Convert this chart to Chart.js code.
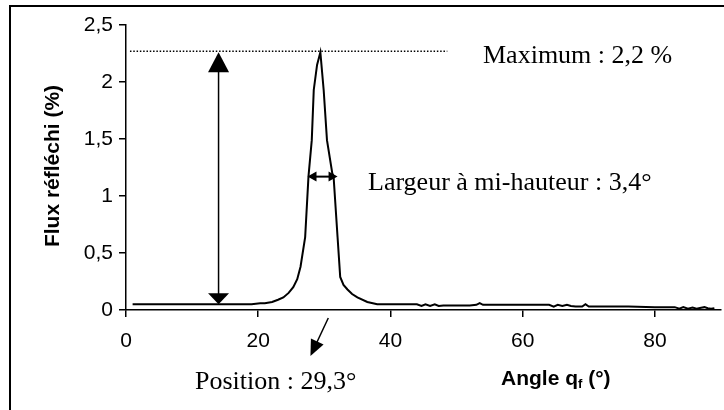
<!DOCTYPE html>
<html>
<head>
<meta charset="utf-8">
<script src="https://cdn.jsdelivr.net/npm/chart.js@4"></script>
<style>
  body { margin: 0; background: #fff; }
  #wrap { width: 724px; height: 410px; }
</style>
</head>
<body>
<div id="wrap"><canvas id="chart" width="724" height="410"></canvas></div>
<script>
// values
const angles = [1, 5, 10, 15, 19, 20.3, 21, 22.1, 23, 23.8, 24.6, 25.3, 25.9, 26.4, 27.1, 27.6, 28.1, 28.4, 28.9, 29.4,
  29.9, 30.4, 31.2, 31.4, 32.0, 32.4, 32.9, 33.5, 34.2, 35, 36.5, 38, 40, 44, 44.7, 45.3, 46, 46.7, 47.3, 48, 50, 52,
  53, 53.5, 54, 56, 60, 64, 64.7, 65.3, 66, 66.7, 67.3, 68, 69, 69.5, 70, 72, 76, 80, 83, 83.7, 84.3, 85, 85.7, 86.3,
  87, 87.5, 88, 88.5, 89];
const flux = [0.05, 0.05, 0.05, 0.05, 0.05, 0.06, 0.06, 0.07, 0.09, 0.11, 0.15, 0.2, 0.27, 0.38, 0.64, 1.17, 1.49, 1.93, 2.15, 2.26,
  1.93, 1.49, 1.2, 1.17, 0.64, 0.29, 0.22, 0.18, 0.14, 0.11, 0.07, 0.05, 0.05, 0.05, 0.035, 0.05, 0.035, 0.05, 0.035, 0.04, 0.04, 0.04,
  0.045, 0.06, 0.045, 0.045, 0.045, 0.045, 0.03, 0.045, 0.035, 0.045, 0.035, 0.03, 0.03, 0.05, 0.03, 0.03, 0.03, 0.025, 0.025, 0.012, 0.025, 0.012, 0.022, 0.012,
  0.02, 0.025, 0.015, 0.01, 0.015];
const xTicks = [0, 20, 40, 60, 80];
const yTicks = [0, 0.5, 1, 1.5, 2, 2.5];

const peakValue = 2.27;
const baseValue = 0.05;
const halfHeight = 1.17;
const halfLeft = 27.45, halfRight = 32.0;

function tri(ctx, tipX, tipY, dirX, dirY, len, half) {
  // arrow head pointing along (dirX, dirY)
  const bx = tipX - dirX * len, by = tipY - dirY * len;
  ctx.beginPath();
  ctx.moveTo(tipX, tipY);
  ctx.lineTo(bx - dirY * half, by + dirX * half);
  ctx.lineTo(bx + dirY * half, by - dirX * half);
  ctx.closePath();
  ctx.fill();
}

const extras = {
  id: 'extras',
  beforeDraw(chart) {
    const ctx = chart.ctx;
    ctx.save();
    ctx.fillStyle = '#fff';
    ctx.fillRect(0, 0, chart.width, chart.height);
    ctx.strokeStyle = '#000';
    ctx.lineWidth = 2;
    ctx.beginPath();
    ctx.moveTo(10, 410);
    ctx.lineTo(10, 6);
    ctx.lineTo(724, 6);
    ctx.stroke();
    ctx.restore();
  },
  afterDatasetsDraw(chart) {
    const ctx = chart.ctx;
    const xs = chart.scales.x, ys = chart.scales.y;
    const area = chart.chartArea;
    ctx.save();
    ctx.strokeStyle = '#000';
    ctx.fillStyle = '#000';

    // dotted level of the maximum
    const yPeak = ys.getPixelForValue(peakValue);
    ctx.lineWidth = 1.5;
    ctx.setLineDash([1.5, 1.8]);
    ctx.beginPath();
    ctx.moveTo(xs.getPixelForValue(0.6), yPeak);
    ctx.lineTo(xs.getPixelForValue(48.6), yPeak);
    ctx.stroke();
    ctx.setLineDash([]);

    // vertical double arrow
    const xa = xs.getPixelForValue(14);
    const yBase = ys.getPixelForValue(baseValue);
    ctx.lineWidth = 1.5;
    ctx.beginPath();
    ctx.moveTo(xa, yPeak + 10);
    ctx.lineTo(xa, yBase - 6);
    ctx.stroke();
    tri(ctx, xa, yPeak + 1, 0, -1, 20, 10.5);
    tri(ctx, xa, yBase, 0, 1, 11, 10.5);

    // half-height width arrow
    const yh = ys.getPixelForValue(halfHeight);
    const xl = xs.getPixelForValue(halfLeft), xr = xs.getPixelForValue(halfRight);
    ctx.lineWidth = 2;
    ctx.beginPath();
    ctx.moveTo(xl + 5, yh);
    ctx.lineTo(xr - 5, yh);
    ctx.stroke();
    tri(ctx, xl, yh, -1, 0, 9, 5);
    tri(ctx, xr, yh, 1, 0, 9, 5);

    // position arrow
    const p0x = xs.getPixelForValue(30.6), p0y = area.bottom + 8;
    const p1x = xs.getPixelForValue(27.9), p1y = area.bottom + 46;
    const dl = Math.hypot(p1x - p0x, p1y - p0y);
    const dx = (p1x - p0x) / dl, dy = (p1y - p0y) / dl;
    ctx.lineWidth = 1.5;
    ctx.beginPath();
    ctx.moveTo(p0x, p0y);
    ctx.lineTo(p1x - dx * 10, p1y - dy * 10);
    ctx.stroke();
    tri(ctx, p1x, p1y, dx, dy, 16, 7);

    // annotation texts
    ctx.font = '26px "Liberation Serif", "Times New Roman", serif';
    ctx.textBaseline = 'alphabetic';
    ctx.textAlign = 'left';
    ctx.fillText('Maximum : 2,2 %', 483, 63);
    ctx.fillText('Largeur à mi-hauteur : 3,4°', 368, 190);
    ctx.fillText('Position : 29,3°', 195, 389);

    // x axis title with subscript
    ctx.font = 'bold 21px "Liberation Sans", Arial, sans-serif';
    let tx = 501;
    ctx.fillText('Angle q', tx, 385);
    tx += ctx.measureText('Angle q').width;
    ctx.font = 'bold 13px "Liberation Sans", Arial, sans-serif';
    ctx.fillText('f', tx, 388);
    tx += ctx.measureText('f').width;
    ctx.font = 'bold 21px "Liberation Sans", Arial, sans-serif';
    ctx.fillText(' (°)', tx, 385);

    // y axis title
    ctx.translate(53, 166);
    ctx.rotate(-Math.PI / 2);
    ctx.textAlign = 'center';
    ctx.textBaseline = 'middle';
    ctx.fillText('Flux réfléchi (%)', 0, 0);
    ctx.restore();
  }
};

const points = angles.map((a, i) => ({ x: a, y: flux[i] }));

new Chart(document.getElementById('chart'), {
  type: 'line',
  data: {
    datasets: [{
      data: points,
      borderColor: '#000',
      borderWidth: 2,
      pointRadius: 0,
      tension: 0,
      fill: false
    }]
  },
  options: {
    responsive: false,
    animation: false,
    layout: { padding: { left: 0, right: 3, top: 25, bottom: 0 } },
    plugins: { legend: { display: false }, tooltip: { enabled: false } },
    scales: {
      x: {
        type: 'linear',
        min: 0,
        max: 90,
        afterBuildTicks: s => { s.ticks = xTicks.map(v => ({ value: v })); },
        afterFit: s => { s.height = 100; },
        grid: { drawOnChartArea: false, color: '#000', lineWidth: 1.5, tickLength: 7 },
        border: { color: '#000', width: 1.5 },
        ticks: {
          color: '#000',
          padding: 12,
          maxRotation: 0,
          font: { family: '"Liberation Sans", Arial, sans-serif', size: 21 },
          callback: v => String(v)
        }
      },
      y: {
        min: 0,
        max: 2.5,
        afterBuildTicks: s => { s.ticks = yTicks.map(v => ({ value: v })); },
        afterFit: s => { s.width = 126; },
        grid: { drawOnChartArea: false, color: '#000', lineWidth: 1.5, tickLength: 7 },
        border: { color: '#000', width: 1.5 },
        ticks: {
          color: '#000',
          padding: 6,
          font: { family: '"Liberation Sans", Arial, sans-serif', size: 21 },
          callback: v => String(v).replace('.', ',')
        }
      }
    }
  },
  plugins: [extras]
});
</script>
</body>
</html>
